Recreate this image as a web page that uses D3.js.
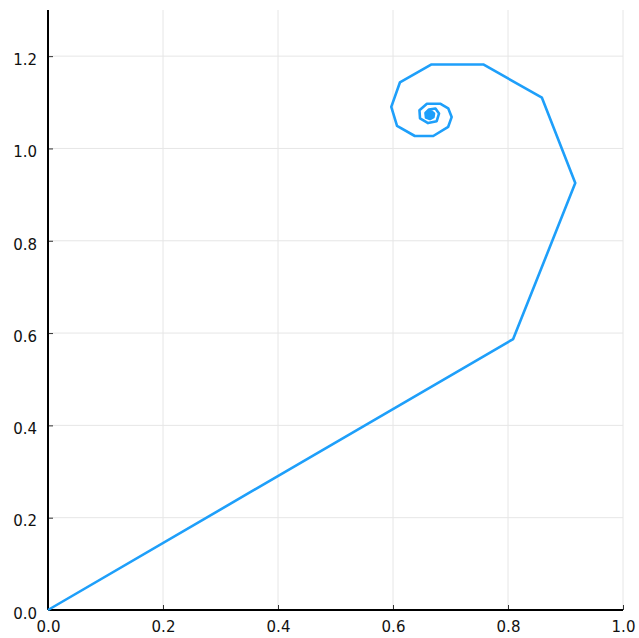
<!DOCTYPE html>
<html><head><meta charset="utf-8">
<script src="https://cdn.jsdelivr.net/npm/d3@7"></script>
<style>body{margin:0;background:#fff}</style>
</head><body>
<script>
const xs = [0, 0.809, 0.917, 0.859, 0.757, 0.667, 0.612, 0.597, 0.607, 0.638, 0.670, 0.696, 0.702, 0.696, 0.682, 0.659, 0.646, 0.647, 0.661, 0.676,
  0.6800, 0.6739, 0.6626, 0.6565, 0.6574, 0.6643, 0.6704, 0.6713, 0.6661, 0.6600, 0.6591, 0.6643, 0.6687, 0.6670, 0.6626, 0.6617, 0.6652, 0.6666, 0.6643, 0.6635];
const ys = [0, 0.587, 0.925, 1.110, 1.182, 1.182, 1.143, 1.090, 1.049, 1.027, 1.027, 1.047, 1.068, 1.087, 1.097, 1.097, 1.083, 1.065, 1.055, 1.059,
  1.0757, 1.0866, 1.0844, 1.0768, 1.0671, 1.0638, 1.0681, 1.0757, 1.0811, 1.0779, 1.0703, 1.0671, 1.0714, 1.0768, 1.0757, 1.0714, 1.0699, 1.0729, 1.0747, 1.0725];
const xTicks = [0, 0.2, 0.4, 0.6, 0.8, 1.0];
const yTicks = [0, 0.2, 0.4, 0.6, 0.8, 1.0, 1.2];

const W = 639, H = 638;
const mL = 48, mR = 623, mT = 10, mB = 610;
const x = d3.scaleLinear().domain([0, 1]).range([mL, mR]);
const y = d3.scaleLinear().domain([0, 1.3]).range([mB, mT]);

const svg = d3.select("body").append("svg").attr("width", W).attr("height", H)
  .style("font-family", "'DejaVu Sans', sans-serif");

// grid
svg.append("g").selectAll("line").data(xTicks).join("line")
  .attr("x1", d => x(d)).attr("x2", d => x(d)).attr("y1", mT).attr("y2", mB)
  .attr("stroke", "#e6e6e6").attr("stroke-width", 1);
svg.append("g").selectAll("line").data(yTicks).join("line")
  .attr("y1", d => y(d)).attr("y2", d => y(d)).attr("x1", mL).attr("x2", mR)
  .attr("stroke", "#e6e6e6").attr("stroke-width", 1);

// axes
const xa = svg.append("g").attr("transform", `translate(0,${mB})`)
  .call(d3.axisBottom(x).tickValues(xTicks).tickFormat(d3.format(".1f")).tickSizeInner(-5).tickSizeOuter(0).tickPadding(11));
const ya = svg.append("g").attr("transform", `translate(${mL},0)`)
  .call(d3.axisLeft(y).tickValues(yTicks).tickFormat(d3.format(".1f")).tickSizeInner(-5).tickSizeOuter(0).tickPadding(11));
[xa, ya].forEach(g => {
  g.select(".domain").attr("stroke", "#000").attr("stroke-width", 2);
  g.selectAll(".tick line").attr("stroke", "#000").attr("stroke-width", 0.8);
  g.selectAll("text").attr("font-size", 15).attr("fill", "#111").attr("font-family", "'DejaVu Sans', sans-serif");
});
ya.selectAll("text").attr("dy", "0.55em");
ya.select(".domain").attr("d", `M0,${mB}V${mT}`);
xa.select(".domain").attr("d", `M${mL},0H${mR}`);

// line
const pts = xs.map((v, i) => [v, ys[i]]);
svg.append("path").datum(pts)
  .attr("d", d3.line().x(d => x(d[0])).y(d => y(d[1])))
  .attr("fill", "none").attr("stroke", "#1e9ffa").attr("stroke-width", 2.6)
  .attr("stroke-linejoin", "round");
</script>
</body></html>
